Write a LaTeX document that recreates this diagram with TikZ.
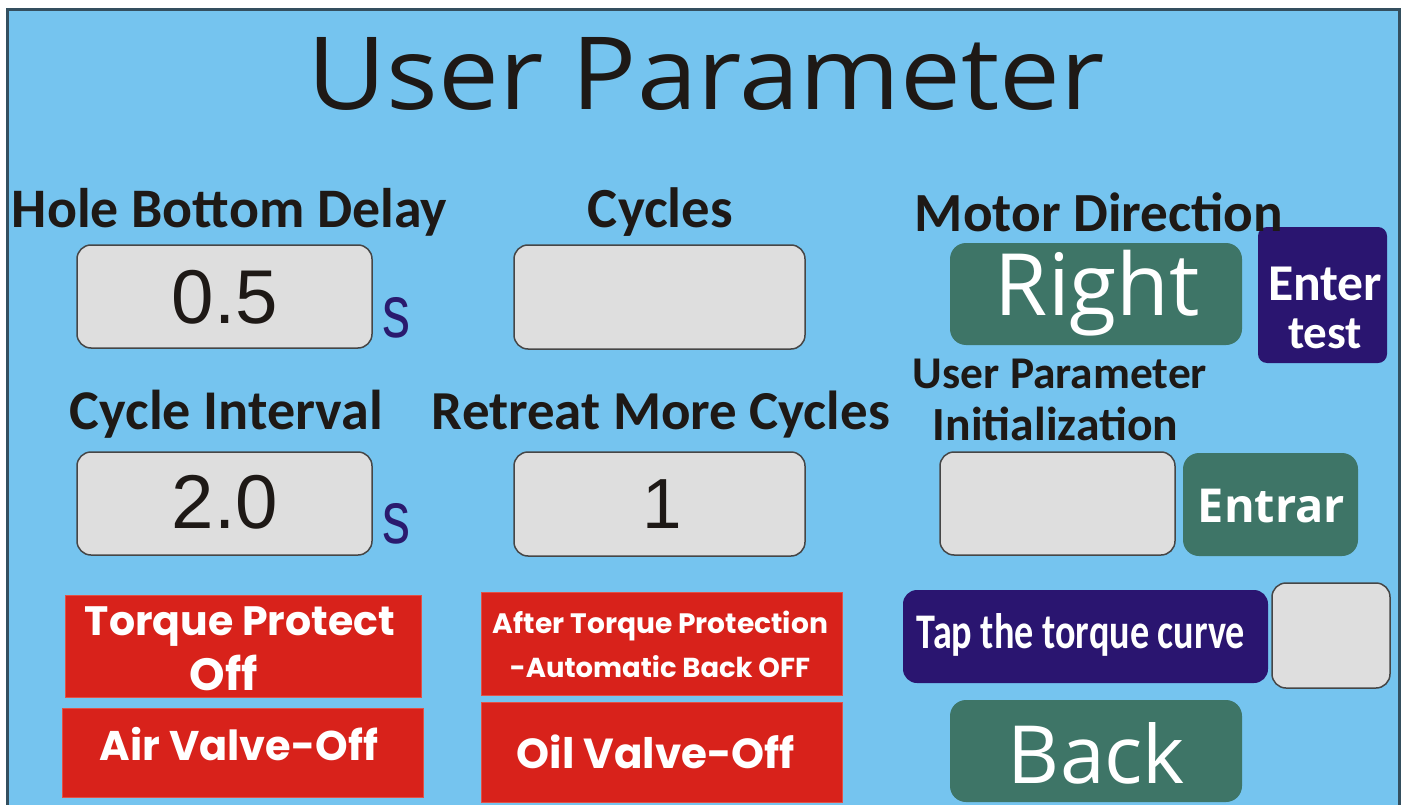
\documentclass[tikz,border=0pt]{standalone}
\usepackage{fontspec}
\usepackage{graphicx}
\setmainfont{Carlito}
\newfontfamily\osans{Open Sans}
\newfontfamily\lsans{Liberation Sans}
\newfontfamily\pop{Poppins}
\definecolor{bgblue}{RGB}{117,196,239}
\definecolor{framec}{RGB}{52,79,95}
\definecolor{boxgray}{RGB}{222,222,222}
\definecolor{boxedge}{RGB}{70,70,70}
\definecolor{teal}{RGB}{62,117,103}
\definecolor{navy}{RGB}{42,21,112}
\definecolor{redb}{RGB}{216,34,27}
\definecolor{rededge}{RGB}{226,80,70}
\definecolor{txtdark}{RGB}{30,25,22}
\definecolor{unitc}{RGB}{42,26,110}
\newcommand\fitw[2]{\resizebox{#1pt}{!}{#2}}
\newcommand\fitwh[3]{\resizebox{#1pt}{#2pt}{#3}}
\begin{document}
\begin{tikzpicture}[x=1pt,y=-1pt,
  lbl/.style={anchor=base,inner sep=0pt,outer sep=0pt,text=txtdark},
  wlbl/.style={anchor=base,inner sep=0pt,outer sep=0pt,text=white},
  ulbl/.style={anchor=base,inner sep=0pt,outer sep=0pt,text=unitc},
  gbox/.style={draw=boxedge,fill=boxgray,line width=1.5pt,rounded corners=14pt,inner sep=0pt},
  tbox/.style={fill=teal,rounded corners=16pt,inner sep=0pt},
  nbox/.style={fill=navy,rounded corners=9pt,inner sep=0pt},
  rbox/.style={fill=redb,draw=rededge,line width=1pt,inner sep=0pt}]
\useasboundingbox (0,0) rectangle (1405,805);
\fill[white] (0,0) rectangle (1405,805);
\draw[line width=3pt,draw=framec,fill=bgblue] (7.5,9.5) rectangle (1399.5,820);
% boxes
\node[gbox,minimum width=295pt,minimum height=103pt] (b05) at (224.5,296.5) {};
\node[gbox,minimum width=291pt,minimum height=104pt] (bcyc) at (659.5,297) {};
\node[tbox,minimum width=292pt,minimum height=102pt] (bright) at (1096,294) {};
\node[nbox,minimum width=129pt,minimum height=136pt] (benter) at (1322.5,295) {};
\node[gbox,minimum width=295pt,minimum height=103pt] (b20) at (224.5,503.5) {};
\node[gbox,minimum width=291pt,minimum height=104pt] (b1) at (659.5,504) {};
\node[gbox,minimum width=235pt,minimum height=103pt] (binit) at (1057.5,503.5) {};
\node[tbox,minimum width=175pt,minimum height=103pt] (bentrar) at (1270.5,504.5) {};
\node[rbox,minimum width=356pt,minimum height=102pt] (btorque) at (243,646) {};
\node[rbox,minimum width=361pt,minimum height=89pt] (bair) at (242.5,752.5) {};
\node[rbox,minimum width=361pt,minimum height=103pt] (bafter) at (661.5,643.5) {};
\node[rbox,minimum width=361pt,minimum height=100pt] (boil) at (661.5,752) {};
\node[nbox,rounded corners=14pt,minimum width=365pt,minimum height=93pt] (btap) at (1085.5,636.5) {};
\node[gbox,minimum width=118pt,minimum height=105pt] (bsmall) at (1331,635.5) {};
\node[tbox,minimum width=292pt,minimum height=102pt] (bback) at (1096,751) {};
% texts
\node[lbl] (title) at (706.5,110) {\fitwh{797}{72}{\osans User Parameter}};
\node[lbl] (lhole) at (229.5,227) {\fitw{435}{\bfseries Hole Bottom Delay}};
\node[lbl] (lcyc) at (660.5,227) {\fitw{145}{\bfseries Cycles}};
\node[lbl] (lmotor) at (1099,231) {\fitw{368}{\bfseries Motor Direction}};
\node[lbl] (v05) at (225,323) {\fitw{106}{\lsans 0.5}};
\node[ulbl] (s1) at (396,337) {\fitwh{28}{40}{\lsans s}};
\node[wlbl] (tright) at (1097.5,315) {\fitw{205}{\osans Right}};
\node[wlbl] (tenter) at (1325,300) {\fitw{114}{\bfseries Enter}};
\node[wlbl] (ttest) at (1325,348) {\fitw{74}{\bfseries test}};
\node[lbl] (linit1) at (1060,388) {\fitw{294}{\bfseries User Parameter}};
\node[lbl] (linit2) at (1055.5,440) {\fitw{245}{\bfseries Initialization}};
\node[lbl] (lint) at (226.5,429) {\fitw{313}{\bfseries Cycle Interval}};
\node[lbl] (lret) at (661,429) {\fitw{458}{\bfseries Retreat More Cycles}};
\node[lbl] (v20) at (225,528) {\fitw{106}{\lsans 2.0}};
\node[ulbl] (s2) at (396,543) {\fitwh{28}{40}{\lsans s}};
\node[lbl] (v1) at (662,528) {\fontsize{71}{71}\selectfont\lsans 1};
\node[wlbl] (tentrar) at (1271.5,522) {\fitw{147}{\osans\bfseries Entrar}};
\node[wlbl] (ttorque1) at (240,635) {\fitw{310}{\pop\bfseries Torque Protect}};
\node[wlbl] (ttorque2) at (224,690) {\fitw{68}{\pop\bfseries Off}};
\node[wlbl] (tair) at (239,760) {\fitw{278}{\pop\bfseries Air Valve-Off}};
\node[wlbl] (tafter1) at (660.5,633) {\fitw{335}{\pop\bfseries After Torque Protection}};
\node[wlbl] (tafter2) at (660,677) {\fitw{300}{\pop\bfseries -Automatic Back OFF}};
\node[wlbl] (toil) at (656,768) {\fitw{278}{\pop\bfseries Oil Valve-Off}};
\node[wlbl] (ttap) at (1081,648) {\fitwh{328}{35}{\bfseries Tap the torque curve}};
\node[wlbl] (tback) at (1096.5,783) {\fitw{177}{\osans Back}};
\end{tikzpicture}
\end{document}
